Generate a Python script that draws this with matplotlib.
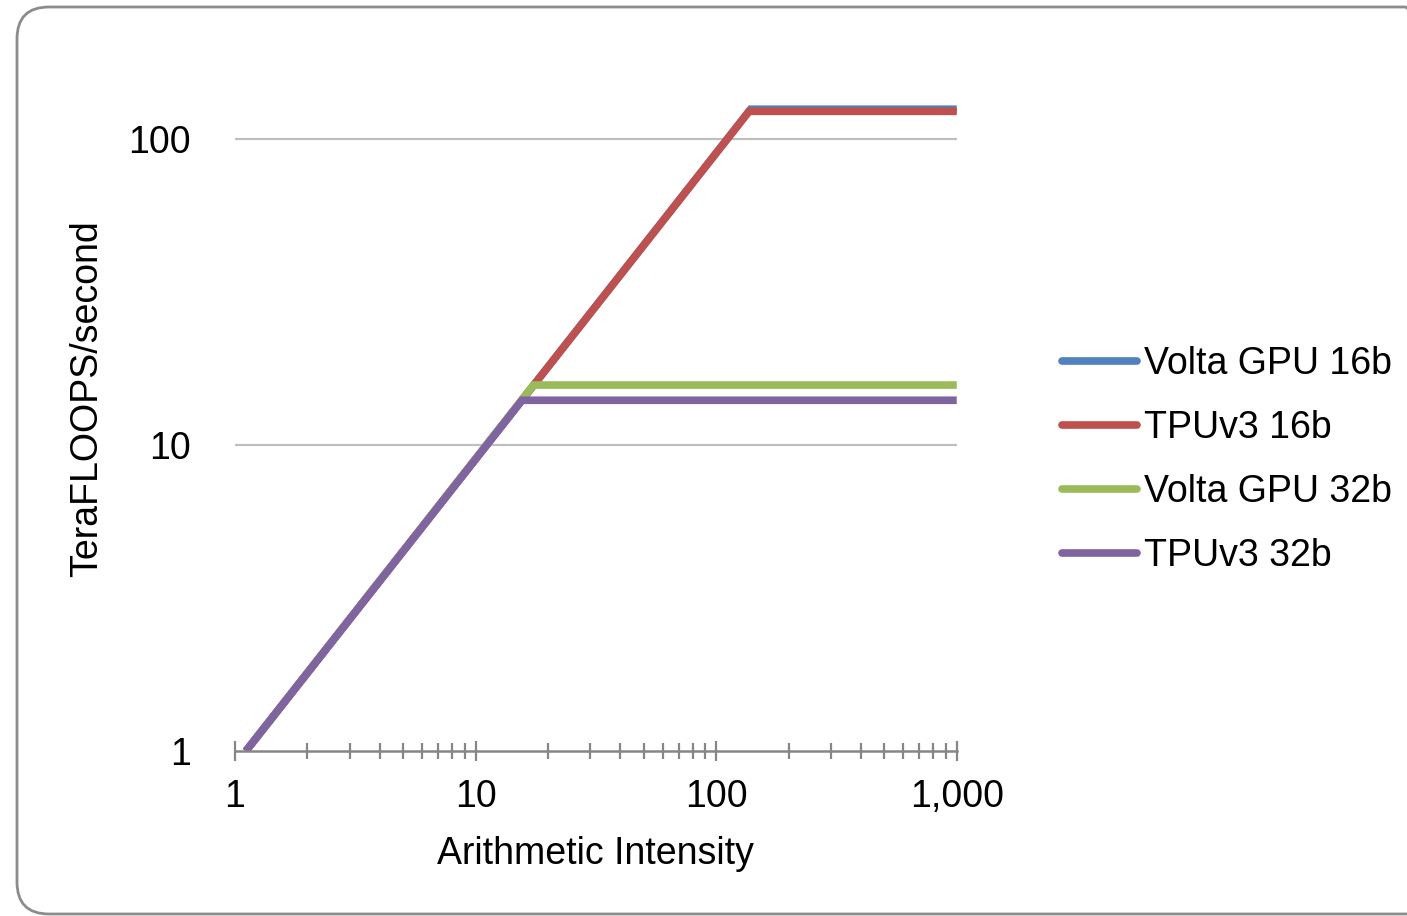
import matplotlib.pyplot as plt
from matplotlib.patches import FancyBboxPatch
from matplotlib.ticker import FixedLocator, LogLocator, FuncFormatter, NullFormatter

plt.rcParams["font.family"] = ["Liberation Sans", "DejaVu Sans"]

# data: roofline corner points (intensity, TFLOPS)
series_names = ["Volta GPU 16b", "TPUv3 16b", "Volta GPU 32b", "TPUv3 32b"]
volta16_x = [1.11, 139, 1000]
volta16_y = [1, 125, 125]
tpu16_x = [1.11, 137, 1000]
tpu16_y = [1, 123, 123]
volta32_x = [1.11, 17.4, 1000]
volta32_y = [1, 15.7, 15.7]
tpu32_x = [1.11, 15.6, 1000]
tpu32_y = [1, 14, 14]
colors = ["#4F81BD", "#C0504D", "#9BBB59", "#8064A2"]

x_ticks = [1, 10, 100, 1000]
y_ticks = [1, 10, 100]

fig = plt.figure(figsize=(14.07, 9.16), dpi=100)
ax = fig.add_axes([0.167, 0.180, 0.513, 0.769])

# rounded chart border, in inches (right side runs off the image)
border = FancyBboxPatch(
    (0.17, 0.02),
    14.20,
    9.07,
    boxstyle="round,pad=0,rounding_size=0.32",
    transform=fig.dpi_scale_trans,
    facecolor="none",
    edgecolor="#8C8C8C",
    linewidth=2,
    clip_on=False,
)
fig.patches.append(border)

all_x = [volta16_x, tpu16_x, volta32_x, tpu32_x]
all_y = [volta16_y, tpu16_y, volta32_y, tpu32_y]
for xs, ys, name, c in zip(all_x, all_y, series_names, colors):
    ax.plot(xs, ys, color=c, linewidth=5.5, label=name, solid_capstyle="butt",
            solid_joinstyle="miter")

ax.set_xscale("log")
ax.set_yscale("log")
ax.set_xlim(1, 1000)
ax.set_ylim(1, 200)

for s in ["top", "right", "left"]:
    ax.spines[s].set_visible(False)
ax.spines["bottom"].set_color("#868686")
ax.spines["bottom"].set_linewidth(1.8)

ax.xaxis.set_major_locator(FixedLocator(x_ticks))
ax.xaxis.set_minor_locator(LogLocator(base=10, subs=range(2, 10)))
ax.xaxis.set_major_formatter(FuncFormatter(lambda v, p: "{:,.0f}".format(v)))
ax.xaxis.set_minor_formatter(NullFormatter())
ax.yaxis.set_major_locator(FixedLocator(y_ticks))
ax.yaxis.set_minor_locator(FixedLocator([]))
ax.yaxis.set_major_formatter(FuncFormatter(lambda v, p: "{:,.0f}".format(v)))

ax.tick_params(axis="x", which="major", direction="inout", length=14, width=1.6,
               color="#868686", labelsize=27, pad=13)
ax.tick_params(axis="x", which="minor", direction="inout", length=11, width=1.6,
               color="#868686")
ax.tick_params(axis="y", which="major", length=0, labelsize=27, pad=32)

for yv in [10, 100]:
    ax.axhline(yv, color="#BFBFBF", linewidth=1.6, zorder=0)

ax.set_xlabel("Arithmetic Intensity", fontsize=27, labelpad=15)
ax.set_ylabel("TeraFLOOPS/second", fontsize=27)
ax.yaxis.set_label_coords(-0.18, 0.5)

leg = fig.legend(
    loc="center left",
    bbox_to_anchor=(1028 / 1407, 1 - 460 / 916),
    fontsize=27,
    frameon=False,
    handlelength=2.0,
    handletextpad=0.2,
    labelspacing=0.75,
)
for h in leg.get_lines():
    h.set_solid_capstyle("round")

fig.savefig("out.png", dpi=100)
